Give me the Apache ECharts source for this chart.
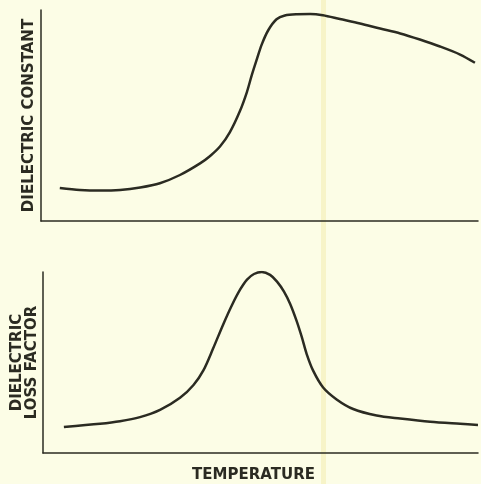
<!DOCTYPE html>
<html>
<head>
<meta charset="utf-8">
<script src="https://cdn.jsdelivr.net/npm/echarts@6/dist/echarts.min.js"></script>
<style>
  html, body { margin: 0; padding: 0; background: #fcfde6; }
  #chart { width: 481px; height: 484px; }
</style>
</head>
<body>
<div id="chart"></div>
<script>
// temperature positions (0-100 across the axis) and curve heights (0-100 of the axis)
var constTemp = [4.3, 8.9, 13.5, 18.1, 22.7, 27.2, 31.8, 36.4, 38.7, 41.0, 43.2, 45.5, 47.1, 48.2, 49.4, 50.5, 52.0, 53.9, 55.8, 58.6, 61.6, 64.5, 68.4, 73.0, 77.6, 82.2, 86.7, 91.3, 95.9, 99.3];
var constVals = [15.6, 14.7, 14.4, 14.7, 15.9, 17.9, 21.8, 27.3, 30.8, 35.4, 42.0, 52.0, 61.0, 68.9, 76.7, 83.6, 90.4, 95.6, 97.4, 98.0, 98.1, 97.5, 95.7, 93.6, 91.2, 88.9, 86.0, 82.7, 78.9, 75.0];

var lossTemp = [4.8, 13.1, 17.7, 22.3, 26.9, 31.5, 34.6, 36.9, 39.1, 41.4, 43.4, 45.3, 46.9, 48.5, 50.3, 52.2, 53.8, 55.4, 56.8, 58.3, 59.5, 60.6, 62.1, 64.4, 67.5, 71.3, 76.7, 82.1, 89.0, 95.9, 100];
var lossVals = [14.3, 16.1, 17.5, 19.8, 23.8, 30.5, 37.6, 45.8, 57.7, 70.9, 81.5, 90.2, 95.8, 98.9, 100, 98.4, 94.7, 89.2, 82.5, 73.0, 64.0, 54.8, 45.5, 36.2, 29.6, 24.3, 20.7, 19.0, 17.2, 16.1, 15.5];

var ink = '#2b2b22';
var labelFont = { color: ink, fontSize: 15, fontWeight: 'bold', fontFamily: 'DejaVu Sans' };

function pairs(xs, ys) {
  var out = [];
  for (var i = 0; i < xs.length; i++) out.push([xs[i], ys[i]]);
  return out;
}

function xAxisOf(idx, name) {
  return {
    type: 'value', gridIndex: idx, min: 0, max: 100,
    name: name || '', nameLocation: 'middle', nameGap: 15,
    nameTextStyle: Object.assign({ padding: [0, 14, 0, 0] }, labelFont),
    axisLine: { show: true, lineStyle: { color: ink, width: 1.5 } },
    axisTick: { show: false }, axisLabel: { show: false }, splitLine: { show: false }
  };
}

function yAxisOf(idx, name, gap) {
  return {
    type: 'value', gridIndex: idx, min: 0, max: 100,
    name: name, nameLocation: 'middle', nameGap: gap, nameRotate: 90,
    nameTextStyle: labelFont,
    axisLine: { show: true, lineStyle: { color: ink, width: 1.5 } },
    axisTick: { show: false }, axisLabel: { show: false }, splitLine: { show: false }
  };
}

function curve(idx, xs, ys) {
  return {
    type: 'line', xAxisIndex: idx, yAxisIndex: idx,
    smooth: 0.3, showSymbol: false,
    lineStyle: { color: ink, width: 2.5 },
    data: pairs(xs, ys)
  };
}

var chart = echarts.init(document.getElementById('chart'), null, { renderer: 'canvas' });
chart.setOption({
  backgroundColor: '#fcfde6',
  animation: false,
  graphic: [{
    type: 'rect', z: -10, silent: true,
    shape: { x: 321, y: 0, width: 5, height: 484 },
    style: { fill: '#f7f4c8' }
  }],
  grid: [
    { left: 41, top: 10, width: 437, height: 211 },
    { left: 43, top: 272, width: 435, height: 189 }
  ],
  xAxis: [xAxisOf(0), xAxisOf(1, 'TEMPERATURE')],
  yAxis: [yAxisOf(0, 'DIELECTRIC CONSTANT', 4), yAxisOf(1, 'DIELECTRIC\nLOSS FACTOR', 3)],
  series: [
    curve(0, constTemp, constVals),
    curve(1, lossTemp, lossVals)
  ]
});
</script>
</body>
</html>
